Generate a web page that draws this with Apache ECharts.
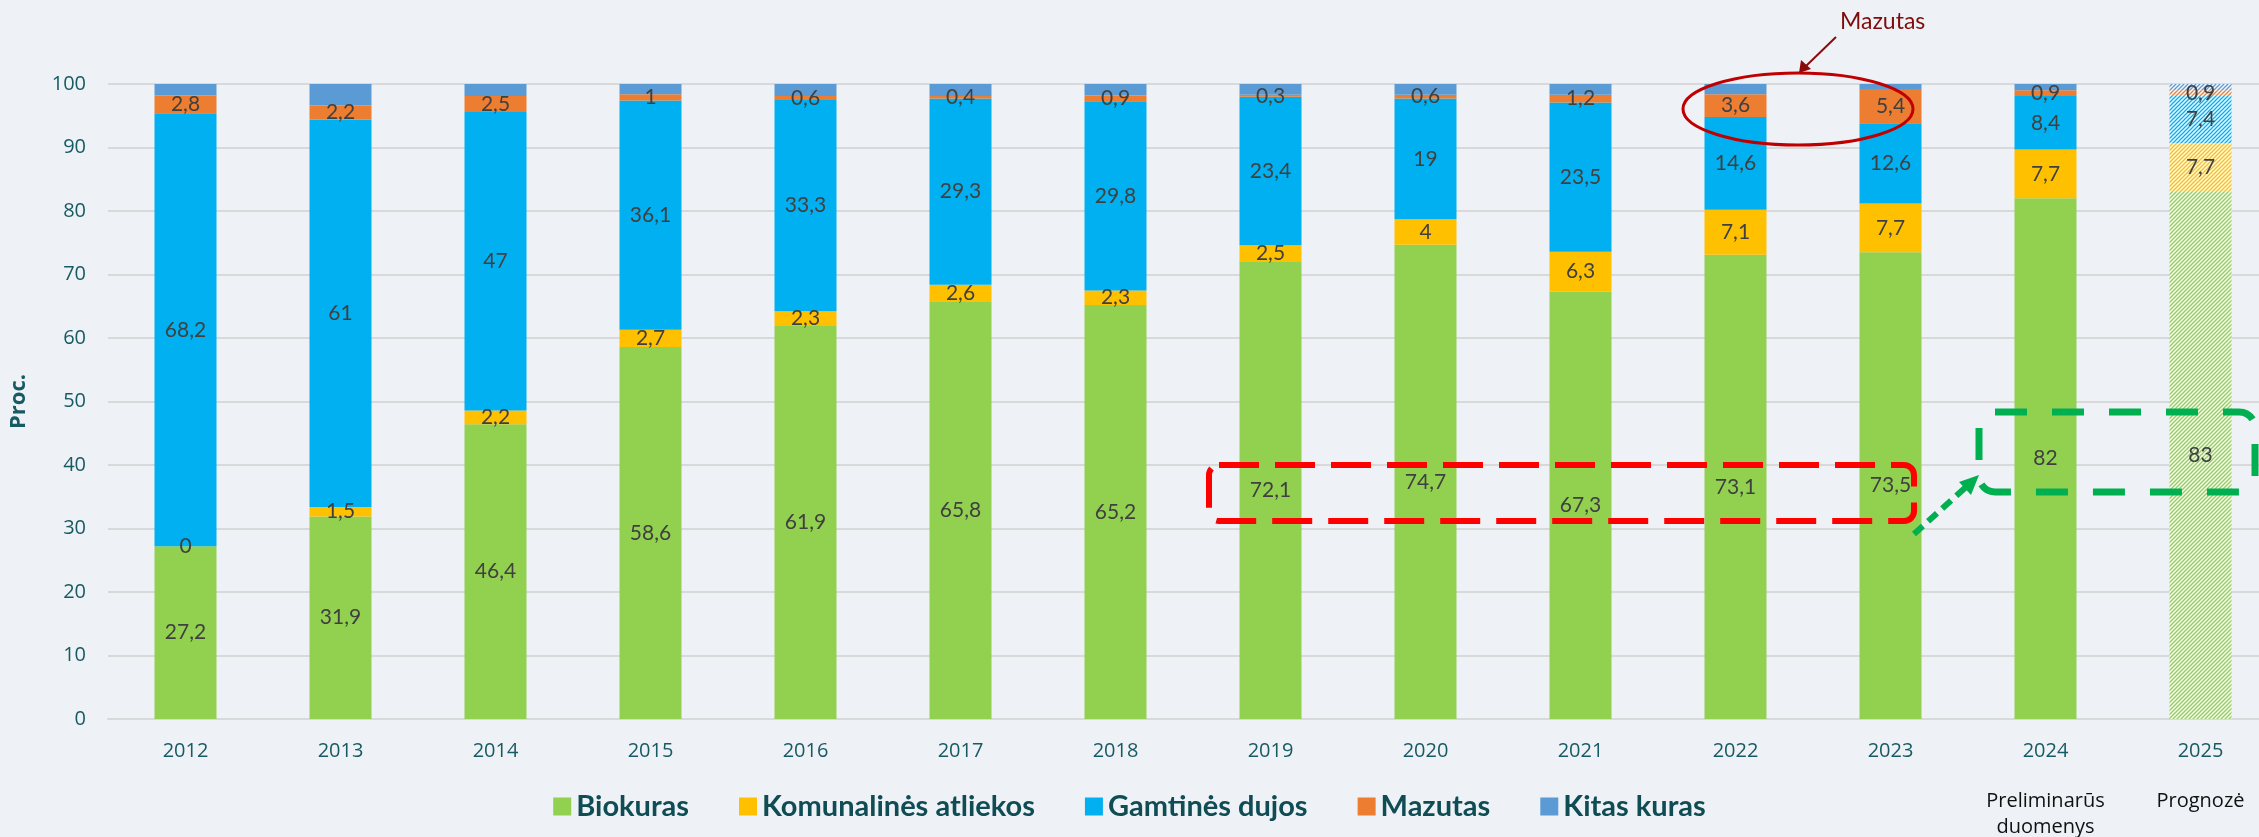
<!DOCTYPE html>
<html>
<head>
<meta charset="utf-8">
<script src="https://cdn.jsdelivr.net/npm/echarts@6/dist/echarts.min.js"></script>
<style>
  html, body { margin: 0; padding: 0; background: #eef2f6; }
  #chart { width: 2259px; height: 837px; }
</style>
</head>
<body>
<div id="chart"></div>
<script>
const years = ['2012','2013','2014','2015','2016','2017','2018','2019','2020','2021','2022','2023','2024','2025'];
const biokuras = [27.2, 31.9, 46.4, 58.6, 61.9, 65.8, 65.2, 72.1, 74.7, 67.3, 73.1, 73.5, 82, 83];
const komunalines = [0, 1.5, 2.2, 2.7, 2.3, 2.6, 2.3, 2.5, 4, 6.3, 7.1, 7.7, 7.7, 7.7];
const dujos = [68.2, 61, 47, 36.1, 33.3, 29.3, 29.8, 23.4, 19, 23.5, 14.6, 12.6, 8.4, 7.4];
const mazutas = [2.8, 2.2, 2.5, 1, 0.6, 0.4, 0.9, 0.3, 0.6, 1.2, 3.6, 5.4, 0.9, 0.9];
const kitas = [1.8, 3.4, 1.9, 1.6, 1.9, 1.9, 1.8, 1.7, 1.7, 1.7, 1.6, 0.8, 1, 1];
const yTicks = { min: 0, max: 100, step: 10 };
const subLabels = { '2024': ['Preliminarūs', 'duomenys'], '2025': ['Prognozė'] };

const BG = '#eef2f6';
const TEAL = '#175a63';
const axisFont = '"Open Sans", sans-serif';
const labelFont = 'Lato, "Open Sans", sans-serif';

// striped fill for the forecast column
function hatch(color){
    const c = document.createElement('canvas');
    c.width = 4; c.height = 4;
    const ctx = c.getContext('2d');
    ctx.fillStyle = '#f8fafc';
    ctx.fillRect(0, 0, 4, 4);
    ctx.strokeStyle = color;
    ctx.lineWidth = 1.3;
    ctx.beginPath();
    ctx.moveTo(0, 4); ctx.lineTo(4, 0);
    ctx.moveTo(-1, 1); ctx.lineTo(1, -1);
    ctx.moveTo(3, 5); ctx.lineTo(5, 3);
    ctx.stroke();
    return { image: c, repeat: 'repeat' };
}

function makeSeries(name, values, color, showLabel){
    const last = values.length - 1;
    return {
        name: name,
        type: 'bar',
        stack: 'total',
        barWidth: '40%',
        itemStyle: { color: color },
        label: {
            show: showLabel,
            position: 'inside',
            color: '#404040',
            fontSize: 21,
            fontFamily: labelFont,
            formatter: p => String(p.value).replace('.', ',')
        },
        data: values.map((v, i) => i === last ? { value: v, itemStyle: { color: hatch(color) } } : v)
    };
}

const chart = echarts.init(document.getElementById('chart'));
const option = {
    backgroundColor: BG,
    animation: false,
    grid: { left: 108, right: -19, top: 84, bottom: 118, containLabel: false, outerBoundsMode: 'none' },
    legend: {
        top: 787,
        left: 'center',
        icon: 'rect',
        itemWidth: 18,
        itemHeight: 18,
        itemGap: 50,
        textStyle: { fontSize: 29, fontWeight: 'bold', color: '#0f4c54', fontFamily: labelFont },
        data: ['Biokuras', 'Komunalinės atliekos', 'Gamtinės dujos', 'Mazutas', 'Kitas kuras']
    },
    xAxis: {
        type: 'category',
        data: years,
        axisLine: { lineStyle: { color: '#d9d9d9', width: 2 } },
        axisTick: { show: false },
        axisLabel: {
            margin: -5,
            formatter: function(v){
                let s = '{y|' + v + '}';
                (subLabels[v] || []).forEach(t => { s += '\n{s|' + t + '}'; });
                return s;
            },
            rich: {
                y: { fontSize: 20, color: TEAL, fontFamily: axisFont, lineHeight: 74 },
                s: { fontSize: 20, color: '#111', fontFamily: axisFont, lineHeight: 26 }
            }
        }
    },
    yAxis: {
        type: 'value',
        min: yTicks.min,
        max: yTicks.max,
        interval: yTicks.step,
        name: 'Proc.',
        nameLocation: 'middle',
        nameGap: 78,
        nameTextStyle: { fontSize: 22, fontWeight: 'bold', color: TEAL, fontFamily: axisFont },
        axisLabel: { fontSize: 20, color: TEAL, fontFamily: axisFont, margin: 22 },
        splitLine: { lineStyle: { color: '#d9d9d9', width: 2 } }
    },
    series: [
        makeSeries('Biokuras', biokuras, '#92d050', true),
        makeSeries('Komunalinės atliekos', komunalines, '#ffc000', true),
        makeSeries('Gamtinės dujos', dujos, '#00b0f0', true),
        makeSeries('Mazutas', mazutas, '#ed7d31', true),
        makeSeries('Kitas kuras', kitas, '#5b9bd5', false)
    ],
    graphic: [
        { type: 'text', z: 100, left: 1840, top: 10, style: { text: 'Mazutas', fontSize: 23, fill: '#7f0b0b', fontFamily: labelFont } },
        { type: 'line', z: 100, shape: { x1: 1836, y1: 37, x2: 1806, y2: 66 }, style: { stroke: '#8b0a0a', lineWidth: 2 } },
        { type: 'polygon', z: 100, shape: { points: [[1799, 73], [1801, 60], [1811, 69]] }, style: { fill: '#8b0a0a' } },
        { type: 'ellipse', z: 100, shape: { cx: 1798, cy: 109, rx: 115, ry: 36 }, style: { fill: 'none', stroke: '#c00000', lineWidth: 3 } },
        { type: 'rect', z: 100, shape: { x: 1209, y: 465, width: 705, height: 56, r: 10 }, style: { fill: 'none', stroke: '#ff0000', lineWidth: 6, lineDash: [40, 16] } },
        { type: 'rect', z: 100, shape: { x: 1979, y: 412, width: 276, height: 80, r: 16 }, style: { fill: 'none', stroke: '#00b050', lineWidth: 7, lineDash: [32, 25] } },
        { type: 'line', z: 100, shape: { x1: 1914, y1: 534, x2: 1966, y2: 487 }, style: { stroke: '#00b050', lineWidth: 6, lineDash: [12, 7] } },
        { type: 'polygon', z: 100, shape: { points: [[1979, 475], [1959, 482], [1971, 495]] }, style: { fill: '#00b050' } }
    ]
};
chart.setOption(option);
</script>
</body>
</html>
